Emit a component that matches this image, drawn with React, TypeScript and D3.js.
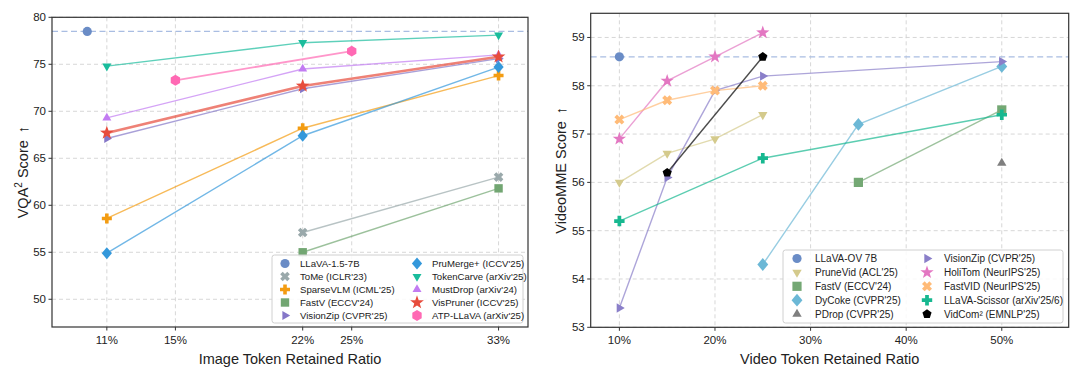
import React from "react";
import * as d3 from "d3";

// ---------- Left panel data (VQA^2) ----------
const leftXTicks = [11.11, 15, 22.22, 25, 33.33];
const leftXTickLabels = ["11%", "15%", "22%", "25%", "33%"];
const leftYTicks = [50, 55, 60, 65, 70, 75, 80];
const leftRef = 78.5;

const llava15X = [10];
const llava15Y = [78.5];
const tomeX = [22.22, 33.33];
const tomeY = [57.1, 63.0];
const sparseVlmX = [11.11, 22.22, 33.33];
const sparseVlmY = [58.6, 68.2, 73.8];
const fastvLX = [22.22, 33.33];
const fastvLY = [55.0, 61.8];
const visionZipLX = [11.11, 22.22, 33.33];
const visionZipLY = [67.1, 72.4, 75.6];
const pruMergeX = [11.11, 22.22, 33.33];
const pruMergeY = [54.9, 67.4, 74.7];
const tokenCarveX = [11.11, 22.22, 33.33];
const tokenCarveY = [74.8, 77.3, 78.1];
const mustDropX = [11.11, 22.22, 33.33];
const mustDropY = [69.3, 74.5, 76.0];
const visPrunerX = [11.11, 22.22, 33.33];
const visPrunerY = [67.7, 72.7, 75.8];
const atpX = [15, 25];
const atpY = [73.3, 76.4];

// ---------- Right panel data (VideoMME) ----------
const rightXTicks = [10, 20, 30, 40, 50];
const rightXTickLabels = ["10%", "20%", "30%", "40%", "50%"];
const rightYTicks = [53, 54, 55, 56, 57, 58, 59];
const rightRef = 58.6;

const llavaOvX = [10];
const llavaOvY = [58.6];
const pruneVidX = [10, 15, 20, 25];
const pruneVidY = [56.0, 56.6, 56.9, 57.4];
const fastvRX = [35, 50];
const fastvRY = [56.0, 57.5];
const dyCokeX = [25, 35, 50];
const dyCokeY = [54.3, 57.2, 58.4];
const pdropX = [50];
const pdropY = [56.4];
const visionZipRX = [10, 15, 20, 25, 50];
const visionZipRY = [53.4, 56.1, 57.9, 58.2, 58.5];
const holiTomX = [10, 15, 20, 25];
const holiTomY = [56.9, 58.1, 58.6, 59.1];
const fastVidX = [10, 15, 20, 25];
const fastVidY = [57.3, 57.7, 57.9, 58.0];
const scissorX = [10, 25, 50];
const scissorY = [55.2, 56.5, 57.4];
const vidComX = [15, 25];
const vidComY = [56.2, 58.6];

type Series = {
  name: string;
  color: string;
  marker: string;
  r: number;
  lw: number;
  xs: number[];
  ys: number[];
  line: boolean;
};

function poly(pts: [number, number][]) {
  return "M" + pts.map((p) => `${p[0].toFixed(2)},${p[1].toFixed(2)}`).join("L") + "Z";
}
function regular(n: number, r: number, start: number) {
  const pts: [number, number][] = [];
  for (let k = 0; k < n; k++) {
    const a = ((start + (360 / n) * k) * Math.PI) / 180;
    pts.push([r * Math.cos(a), r * Math.sin(a)]);
  }
  return pts;
}
function markerPath(shape: string, r: number): string {
  switch (shape) {
    case "o":
      return `M${r},0A${r},${r} 0 1,1 ${-r},0A${r},${r} 0 1,1 ${r},0Z`;
    case "s":
      return poly([[-r, -r], [r, -r], [r, r], [-r, r]]);
    case "D":
      return poly([[0, -r], [r * 0.85, 0], [0, r], [-r * 0.85, 0]]);
    case "^":
      return poly(regular(3, r, -90));
    case "v":
      return poly(regular(3, r, 90));
    case ">":
      return poly(regular(3, r, 0));
    case "h":
      return poly(regular(6, r, -90));
    case "p":
      return poly(regular(5, r, -90));
    case "*": {
      const pts: [number, number][] = [];
      for (let k = 0; k < 10; k++) {
        const rad = k % 2 === 0 ? r : r * 0.4;
        const a = ((-90 + 36 * k) * Math.PI) / 180;
        pts.push([rad * Math.cos(a), rad * Math.sin(a)]);
      }
      return poly(pts);
    }
    case "P":
    case "X": {
      const a = r * 0.36;
      const base: [number, number][] = [
        [-a, -r], [a, -r], [a, -a], [r, -a], [r, a], [a, a],
        [a, r], [-a, r], [-a, a], [-r, a], [-r, -a], [-a, -a],
      ];
      if (shape === "P") return poly(base);
      const c = Math.SQRT1_2;
      return poly(base.map(([x, y]) => [(x - y) * c, (x + y) * c] as [number, number]));
    }
  }
  return "";
}

const leftSeries: Series[] = [
  { name: "LLaVA-1.5-7B", color: "#6a8cc6", marker: "o", r: 4.6, lw: 1.5, xs: llava15X, ys: llava15Y, line: false },
  { name: "ToMe (ICLR'23)", color: "#9aa9ab", marker: "X", r: 5, lw: 1.4, xs: tomeX, ys: tomeY, line: true },
  { name: "SparseVLM (ICML'25)", color: "#f39c12", marker: "P", r: 5, lw: 1.4, xs: sparseVlmX, ys: sparseVlmY, line: true },
  { name: "FastV (ECCV'24)", color: "#72a672", marker: "s", r: 4.2, lw: 1.4, xs: fastvLX, ys: fastvLY, line: true },
  { name: "VisionZip (CVPR'25)", color: "#8577c8", marker: ">", r: 5.2, lw: 1.4, xs: visionZipLX, ys: visionZipLY, line: true },
  { name: "PruMerge+ (ICCV'25)", color: "#3498db", marker: "D", r: 6, lw: 1.4, xs: pruMergeX, ys: pruMergeY, line: true },
  { name: "TokenCarve (arXiv'25)", color: "#1abc9c", marker: "v", r: 5.2, lw: 1.4, xs: tokenCarveX, ys: tokenCarveY, line: true },
  { name: "MustDrop (arXiv'24)", color: "#c27cf2", marker: "^", r: 5.2, lw: 1.4, xs: mustDropX, ys: mustDropY, line: true },
  { name: "VisPruner (ICCV'25)", color: "#e74c3c", marker: "*", r: 7.2, lw: 2.6, xs: visPrunerX, ys: visPrunerY, line: true },
  { name: "ATP-LLaVA (arXiv'25)", color: "#ff69b4", marker: "h", r: 5.4, lw: 1.8, xs: atpX, ys: atpY, line: true },
];

const rightSeries: Series[] = [
  { name: "LLaVA-OV 7B", color: "#6a8cc6", marker: "o", r: 4.6, lw: 1.5, xs: llavaOvX, ys: llavaOvY, line: false },
  { name: "PruneVid (ACL'25)", color: "#d4ca8c", marker: "v", r: 5.4, lw: 1.4, xs: pruneVidX, ys: pruneVidY, line: true },
  { name: "FastV (ECCV'24)", color: "#74a874", marker: "s", r: 4.6, lw: 1.4, xs: fastvRX, ys: fastvRY, line: true },
  { name: "DyCoke (CVPR'25)", color: "#6cb8d6", marker: "D", r: 6.4, lw: 1.4, xs: dyCokeX, ys: dyCokeY, line: true },
  { name: "PDrop (CVPR'25)", color: "#7f7f7f", marker: "^", r: 5.4, lw: 1.4, xs: pdropX, ys: pdropY, line: false },
  { name: "VisionZip (CVPR'25)", color: "#8a7fc9", marker: ">", r: 5.4, lw: 1.4, xs: visionZipRX, ys: visionZipRY, line: true },
  { name: "HoliTom (NeurIPS'25)", color: "#e377c2", marker: "*", r: 7, lw: 1.4, xs: holiTomX, ys: holiTomY, line: true },
  { name: "FastVID (NeurIPS'25)", color: "#ffbb78", marker: "X", r: 5.2, lw: 1.4, xs: fastVidX, ys: fastVidY, line: true },
  { name: "LLaVA-Scissor (arXiv'25/6)", color: "#17b890", marker: "P", r: 5.2, lw: 1.4, xs: scissorX, ys: scissorY, line: true },
  { name: "VidCom\u00b2 (EMNLP'25)", color: "#000000", marker: "p", r: 4.8, lw: 1.4, xs: vidComX, ys: vidComY, line: true },
];

const FONT = "'Liberation Sans', Arial, Helvetica, sans-serif";

type PanelProps = {
  box: { l: number; r: number; t: number; b: number };
  xDomain: [number, number];
  yDomain: [number, number];
  xTicks: number[];
  xTickLabels: string[];
  yTicks: number[];
  refY: number;
  series: Series[];
  xLabel: string;
  yLabel: React.ReactNode;
  yLabelX: number;
  legend: { x: number; y: number; w: number; h: number; mx: number[]; tx: number[]; y0: number; dy: number; fs: number };
};

function Panel(p: PanelProps) {
  const { box } = p;
  const x = d3.scaleLinear().domain(p.xDomain).range([box.l, box.r]);
  const y = d3.scaleLinear().domain(p.yDomain).range([box.b, box.t]);
  const line = d3
    .line<[number, number]>()
    .x((d) => x(d[0]))
    .y((d) => y(d[1]));
  const cy = (box.t + box.b) / 2;
  const cx = (box.l + box.r) / 2;
  return (
    <g fontFamily={FONT}>
      {/* grid */}
      {p.xTicks.map((t, i) => (
        <line key={"gx" + i} x1={x(t)} x2={x(t)} y1={box.t} y2={box.b} stroke="#d3d3d3" strokeWidth={0.9} strokeDasharray="4,3" />
      ))}
      {p.yTicks.map((t, i) => (
        <line key={"gy" + i} x1={box.l} x2={box.r} y1={y(t)} y2={y(t)} stroke="#d3d3d3" strokeWidth={0.9} strokeDasharray="4,3" />
      ))}
      {/* reference */}
      <line x1={box.l} x2={box.r} y1={y(p.refY)} y2={y(p.refY)} stroke="#a9bde2" strokeWidth={1.3} strokeDasharray="6,3.5" />
      {/* series */}
      {p.series.map((s, i) => {
        const pts = s.xs.map((v, j) => [v, s.ys[j]] as [number, number]);
        return (
          <g key={"s" + i}>
            {s.line && pts.length > 1 && (
              <path d={line(pts) || ""} fill="none" stroke={s.color} strokeOpacity={0.7} strokeWidth={s.lw} />
            )}
            {pts.map((pt, j) => (
              <path key={j} d={markerPath(s.marker, s.r)} transform={`translate(${x(pt[0])},${y(pt[1])})`} fill={s.color} />
            ))}
          </g>
        );
      })}
      {/* frame */}
      <rect x={box.l} y={box.t} width={box.r - box.l} height={box.b - box.t} fill="none" stroke="#333" strokeWidth={1.2} />
      {/* ticks */}
      {p.xTicks.map((t, i) => (
        <g key={"tx" + i}>
          <line x1={x(t)} x2={x(t)} y1={box.b} y2={box.b + 3.5} stroke="#333" strokeWidth={1} />
          <text x={x(t)} y={box.b + 17} textAnchor="middle" fontSize={11.5} fill="#222">
            {p.xTickLabels[i]}
          </text>
        </g>
      ))}
      {p.yTicks.map((t, i) => (
        <g key={"ty" + i}>
          <line x1={box.l - 3.5} x2={box.l} y1={y(t)} y2={y(t)} stroke="#333" strokeWidth={1} />
          <text x={box.l - 6} y={y(t) + 4} textAnchor="end" fontSize={11.5} fill="#222">
            {t}
          </text>
        </g>
      ))}
      {/* axis labels */}
      <text x={cx} y={364} textAnchor="middle" fontSize={14.5} fill="#222">
        {p.xLabel}
      </text>
      <text transform={`translate(${p.yLabelX},${cy}) rotate(-90)`} textAnchor="middle" fontSize={14.5} fill="#222">
        {p.yLabel}
      </text>
      {/* legend */}
      <rect x={p.legend.x} y={p.legend.y} width={p.legend.w} height={p.legend.h} rx={2.5} fill="#fff" fillOpacity={0.85} stroke="#d0d0d0" strokeWidth={1} />
      {p.series.map((s, i) => {
        const col = Math.floor(i / 5);
        const row = i % 5;
        const ly = p.legend.y0 + row * p.legend.dy;
        return (
          <g key={"l" + i}>
            <path d={markerPath(s.marker, s.r)} transform={`translate(${p.legend.mx[col]},${ly})`} fill={s.color} />
            <text x={p.legend.tx[col]} y={ly + 3.5} fontSize={p.legend.fs} fill="#222">
              {s.name}
            </text>
          </g>
        );
      })}
    </g>
  );
}

export default function App() {
  return (
    <svg width={1080} height={375} style={{ position: "absolute", left: 0, top: 0, background: "#fff" }}>
      <rect width={1080} height={375} fill="#fff" />
      <Panel
        box={{ l: 52, r: 528, t: 17.3, b: 327 }}
        xDomain={[8, 35]}
        yDomain={[47.05, 80]}
        xTicks={leftXTicks}
        xTickLabels={leftXTickLabels}
        yTicks={leftYTicks}
        refY={leftRef}
        series={leftSeries}
        xLabel="Image Token Retained Ratio"
        yLabel={
          <>
            VQA<tspan fontSize={10} dy={-6}>2</tspan>
            <tspan dy={6}> Score</tspan>
            <tspan dx={7}>↑</tspan>
          </>
        }
        yLabelX={28}
        legend={{ x: 272, y: 255, w: 251, h: 68, mx: [285, 417], tx: [300, 432], y0: 263.5, dy: 13, fs: 9.6 }}
      />
      <Panel
        box={{ l: 590.7, r: 1068.7, t: 13.3, b: 327.3 }}
        xDomain={[7, 57]}
        yDomain={[53, 59.5]}
        xTicks={rightXTicks}
        xTickLabels={rightXTickLabels}
        yTicks={rightYTicks}
        refY={rightRef}
        series={rightSeries}
        xLabel="Video Token Retained Ratio"
        yLabel={
          <>
            VideoMME Score<tspan dx={7}>↑</tspan>
          </>
        }
        yLabelX={566}
        legend={{ x: 783, y: 250, w: 280, h: 73, mx: [797, 927], tx: [815, 944], y0: 258.5, dy: 13.9, fs: 10 }}
      />
    </svg>
  );
}
